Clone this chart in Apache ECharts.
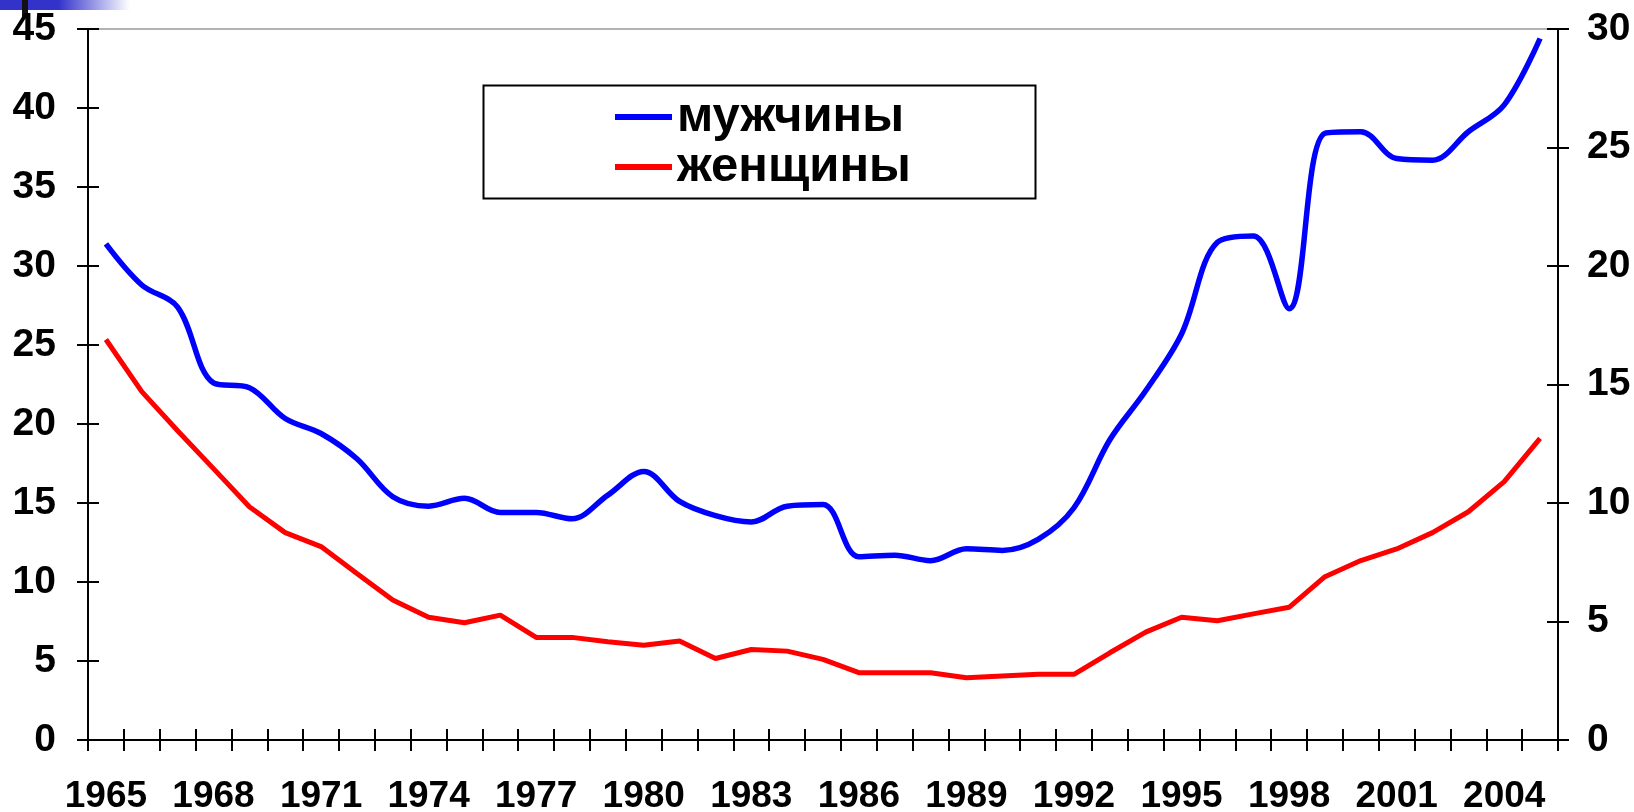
<!DOCTYPE html>
<html>
<head>
<meta charset="utf-8">
<script src="https://cdn.jsdelivr.net/npm/echarts@6.0.0/dist/echarts.min.js"></script>
<style>
  html, body { margin: 0; padding: 0; background: #fff; }
  #chart { width: 1634px; height: 812px; }
</style>
</head>
<body>
<div id="chart"></div>
<script>
const years = [];
for (let y = 1965; y <= 2005; y++) years.push(String(y));

// мужчины, left axis (0-45)
const menValues = [
  31.4, 28.8, 27.4, 22.6, 22.3, 20.35, 19.4, 17.8, 15.4, 14.8,
  15.3, 14.4, 14.4, 14.0, 15.5, 17.0, 15.1, 14.2, 13.8, 14.8,
  14.9, 11.6, 11.7, 11.35, 12.1, 12.0, 12.7, 14.7, 19.0, 22.1,
  25.7, 31.5, 31.9, 27.3, 38.4, 38.5, 36.8, 36.7, 38.5, 40.2,
  44.4
];

// женщины, right axis (0-30)
const womenValues = [
  16.9, 14.7, 13.05, 11.45, 9.84, 8.75, 8.16, 7.03, 5.91, 5.18,
  4.95, 5.27, 4.33, 4.33, 4.15, 4.0, 4.18, 3.44, 3.82, 3.75,
  3.4, 2.84, 2.84, 2.84, 2.63, 2.7, 2.77, 2.77, 3.68, 4.55,
  5.18, 5.03, 5.32, 5.6, 6.89, 7.57, 8.06, 8.75, 9.63, 10.9,
  12.73
];

const seriesNames = ['мужчины', 'женщины'];

const font = "'Liberation Sans', Arial, sans-serif";
const black = '#000';

const chart = echarts.init(document.getElementById('chart'));

function labelStyle(size) {
  return {
    fontFamily: font,
    fontWeight: 'bold',
    fontSize: size,
    color: black
  };
}

// each axis is drawn twice (outside + inside ticks) so the ticks cross the line
function valueAxis(pos, max, inside) {
  return {
    type: 'value',
    position: pos,
    min: 0,
    max: max,
    interval: 5,
    splitLine: { show: false },
    axisLine: { show: true, lineStyle: { color: black, width: 2 } },
    axisTick: { show: true, inside: inside, length: 11, lineStyle: { color: black, width: 2 } },
    axisLabel: inside ? { show: false } : Object.assign({ margin: pos === 'left' ? 32 : 29 }, labelStyle(39))
  };
}

function catAxis(inside) {
  return {
    type: 'category',
    position: 'bottom',
    data: years,
    boundaryGap: true,
    axisLine: { show: true, lineStyle: { color: black, width: 2 } },
    axisTick: { show: true, inside: inside, length: 11, interval: 0, lineStyle: { color: black, width: 2 } },
    axisLabel: inside ? { show: false } : Object.assign({ interval: 2, margin: 38 }, labelStyle(37)),
    splitLine: { show: false }
  };
}

const option = {
  animation: false,
  backgroundColor: '#fff',
  grid: {
    left: 88,
    right: 76,
    top: 29,
    bottom: 72,
    containLabel: false,
    outerBoundsMode: 'none',
    show: true,
    borderColor: '#999',
    borderWidth: 1.5
  },
  xAxis: [catAxis(false), catAxis(true)],
  yAxis: [
    valueAxis('left', 45, false),
    valueAxis('right', 30, false),
    valueAxis('left', 45, true),
    valueAxis('right', 30, true)
  ],
  legend: {
    orient: 'vertical',
    left: 615,
    top: 92,
    padding: 0,
    itemGap: 0,
    itemWidth: 57,
    itemHeight: 6,
    icon: 'rect',
    data: seriesNames,
    textStyle: {
      fontFamily: font,
      fontWeight: 'bold',
      fontSize: 49,
      lineHeight: 50,
      color: black
    }
  },
  graphic: [
    {
      type: 'rect',
      left: 481, top: 83,
      shape: { width: 552, height: 113 },
      style: { fill: 'none', stroke: black, lineWidth: 2 },
      z: 1
    },
    {
      type: 'rect',
      left: 0, top: 0,
      shape: { width: 130, height: 10 },
      style: {
        fill: new echarts.graphic.LinearGradient(0, 0, 1, 0, [
          { offset: 0, color: '#3333cc' },
          { offset: 0.45, color: '#3333cc' },
          { offset: 1, color: '#ffffff' }
        ])
      }
    },
    {
      type: 'rect',
      left: 22, top: 0,
      shape: { width: 6, height: 18 },
      style: { fill: '#111' }
    }
  ],
  series: [
    {
      name: seriesNames[0],
      type: 'line',
      yAxisIndex: 0,
      data: menValues,
      smooth: 0.35,
      showSymbol: false,
      symbol: 'none',
      color: '#0000ff',
      lineStyle: { color: '#0000ff', width: 5.5 }
    },
    {
      name: seriesNames[1],
      type: 'line',
      yAxisIndex: 1,
      data: womenValues,
      showSymbol: false,
      symbol: 'none',
      color: '#ff0000',
      lineStyle: { color: '#ff0000', width: 5 }
    }
  ]
};

chart.setOption(option);
</script>
</body>
</html>
